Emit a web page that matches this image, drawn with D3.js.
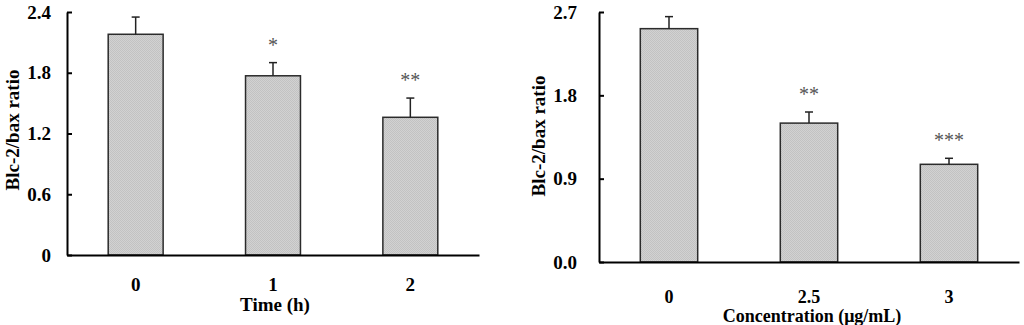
<!DOCTYPE html>
<html>
<head>
<meta charset="utf-8">
<script src="https://cdn.jsdelivr.net/npm/d3@7"></script>
<style>
  body { margin: 0; background: #fff; }
  text { font-family: "Liberation Serif", "Times New Roman", serif; }
</style>
</head>
<body>
<svg id="chart" width="1024" height="325"></svg>
<script>
// left panel: time course
var timeCats = ["0", "1", "2"];
var timeMeans = [2.18, 1.77, 1.36];
var timeErrs = [0.17, 0.13, 0.19];
var timeStars = ["", "*", "**"];
var timeTicks = [0, 0.6, 1.2, 1.8, 2.4];
var timeTickLabels = ["0", "0.6", "1.2", "1.8", "2.4"];

// right panel: concentration
var concCats = ["0", "2.5", "3"];
var concMeans = [2.52, 1.5, 1.055];
var concErrs = [0.13, 0.12, 0.065];
var concStars = ["", "**", "***"];
var concTicks = [0, 0.9, 1.8, 2.7];
var concTickLabels = ["0.0", "0.9", "1.8", "2.7"];

var svgContainer = d3.select("#chart");

// checker fill like the scanned bars
var pat = svgContainer
  .append("defs")
  .append("pattern")
  .attr("id", "dither")
  .attr("width", 2)
  .attr("height", 2)
  .attr("patternUnits", "userSpaceOnUse");
pat.append("rect").attr("width", 2).attr("height", 2).attr("fill", "#d2d2d2");
pat.append("rect").attr("width", 1).attr("height", 1).attr("fill", "#c2c2c2");
pat.append("rect").attr("x", 1).attr("y", 1).attr("width", 1).attr("height", 1).attr("fill", "#c2c2c2");

function drawPanel(opt) {
  var xScale = d3
    .scaleBand()
    .domain(opt.cats)
    .range([opt.x0, opt.x1])
    .paddingInner(opt.pad)
    .paddingOuter(opt.pad / 2);
  var yScale = d3
    .scaleLinear()
    .domain([0, opt.ticks[opt.ticks.length - 1]])
    .range([opt.y0, opt.y1]);

  var g = svgContainer.append("g");

  // bars
  g.selectAll(".bar")
    .data(opt.means)
    .enter()
    .append("rect")
    .attr("x", function (d, i) {
      return xScale(opt.cats[i]);
    })
    .attr("y", function (d) {
      return yScale(d);
    })
    .attr("width", xScale.bandwidth())
    .attr("height", function (d) {
      return yScale(0) - yScale(d);
    })
    .attr("fill", "url(#dither)")
    .attr("stroke", "#2b2b2b")
    .attr("stroke-width", 1.5);

  // error bars (upper half only)
  opt.means.forEach(function (m, i) {
    var cx = xScale(opt.cats[i]) + xScale.bandwidth() / 2;
    var top = yScale(m + opt.errs[i]);
    g.append("line")
      .attr("x1", cx)
      .attr("x2", cx)
      .attr("y1", yScale(m))
      .attr("y2", top)
      .attr("stroke", "#222")
      .attr("stroke-width", 1.5);
    g.append("line")
      .attr("x1", cx - 4)
      .attr("x2", cx + 4)
      .attr("y1", top)
      .attr("y2", top)
      .attr("stroke", "#222")
      .attr("stroke-width", 1.5);
    g.append("text")
      .attr("x", cx)
      .attr("y", top - 11)
      .attr("text-anchor", "middle")
      .attr("fill", "#555")
      .style("font-size", "20px")
      .text(opt.stars[i]);
  });

  // y axis, ticks pointing inward
  var yAxis = d3
    .axisLeft(yScale)
    .tickValues(opt.ticks)
    .tickFormat(function (d, i) {
      return opt.tickLabels[i];
    })
    .tickSizeInner(-5)
    .tickSizeOuter(0)
    .tickPadding(opt.yPad);
  var ya = g
    .append("g")
    .attr("transform", "translate(" + opt.x0 + ",0)")
    .call(yAxis);
  ya.select(".domain").attr("stroke", "#000").attr("stroke-width", 2);
  ya.selectAll(".tick line").attr("stroke", "#000").attr("stroke-width", 2);
  ya.selectAll(".tick text")
    .attr("fill", "#000")
    .style("font-family", '"Liberation Serif", serif')
    .style("font-weight", "bold")
    .style("font-size", "19px");

  // x axis
  var xAxis = d3.axisBottom(xScale).tickSize(0).tickPadding(opt.xPad);
  var xa = g
    .append("g")
    .attr("transform", "translate(0," + opt.y0 + ")")
    .call(xAxis);
  xa.select(".domain").attr("stroke", "#000").attr("stroke-width", 2);
  xa.selectAll(".tick text")
    .attr("fill", "#000")
    .style("font-family", '"Liberation Serif", serif')
    .style("font-weight", "bold")
    .style("font-size", opt.xFont);

  // titles
  g.append("text")
    .attr("x", opt.titleX)
    .attr("y", opt.titleY)
    .attr("text-anchor", "middle")
    .style("font-weight", "bold")
    .style("font-size", opt.titleFont)
    .text(opt.xTitle);

  g.append("text")
    .attr("transform", "translate(" + opt.yTitleX + "," + opt.yTitleY + ") rotate(-90)")
    .attr("text-anchor", "middle")
    .attr("dy", "0.35em")
    .style("font-weight", "bold")
    .style("font-size", "19px")
    .text("Blc-2/bax ratio");
}

drawPanel({
  cats: timeCats,
  means: timeMeans,
  errs: timeErrs,
  stars: timeStars,
  ticks: timeTicks,
  tickLabels: timeTickLabels,
  x0: 67,
  x1: 479,
  y0: 255,
  y1: 12,
  pad: 0.6,
  yPad: 16,
  xPad: 23,
  xFont: "19px",
  xTitle: "Time (h)",
  titleFont: "19px",
  titleX: 275,
  titleY: 311,
  yTitleX: 12,
  yTitleY: 130
});

drawPanel({
  cats: concCats,
  means: concMeans,
  errs: concErrs,
  stars: concStars,
  ticks: concTicks,
  tickLabels: concTickLabels,
  x0: 599,
  x1: 1019,
  y0: 262,
  y1: 12,
  pad: 0.59,
  yPad: 22,
  xPad: 28,
  xFont: "18px",
  xTitle: "Concentration (\u03bcg/mL)",
  titleFont: "18px",
  titleX: 812,
  titleY: 322,
  yTitleX: 538,
  yTitleY: 136
});
</script>
</body>
</html>
